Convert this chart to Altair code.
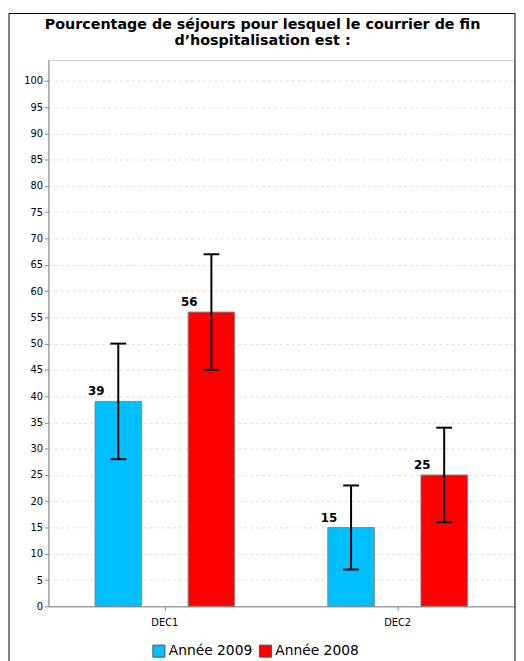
import altair as alt
import pandas as pd

categories = ["DEC1", "DEC2"]
series = ["Année 2009", "Année 2008"]
values_2009 = [39, 15]
values_2008 = [56, 25]
low_2009 = [28, 7]
high_2009 = [50, 23]
low_2008 = [45, 16]
high_2008 = [67, 34]
y_ticks = list(range(0, 101, 5))
colors = ["#00BFFF", "#FF0000"]
title_lines = ["Pourcentage de séjours pour lesquel le courrier de fin", "d\u2019hospitalisation est :"]

rows = []
for i, c in enumerate(categories):
    rows.append({"cat": c, "serie": series[0], "value": values_2009[i], "low": low_2009[i], "high": high_2009[i]})
    rows.append({"cat": c, "serie": series[1], "value": values_2008[i], "low": low_2008[i], "high": high_2008[i]})
df = pd.DataFrame(rows)

W, H = 472, 554
FONT = "DejaVu Sans"

x = alt.X("cat:N", sort=categories, title=None,
          scale=alt.Scale(paddingInner=0, paddingOuter=0),
          axis=alt.Axis(labelAngle=0, labelFont=FONT, labelFontSize=10, labelColor="#000",
                        domainColor="#888", tickColor="#888", tickSize=4, labelPadding=7))
xo = alt.XOffset("serie:N", sort=series, scale=alt.Scale(paddingInner=0.5, paddingOuter=0.5))
yscale = alt.Scale(domain=[0, 104], nice=False)
yaxis = alt.Axis(values=y_ticks, labelOverlap=False, labelFlush=False, title=None,
                 labelFont=FONT, labelFontSize=10, labelColor="#000",
                 domainColor="#888", tickColor="#888", tickSize=4,
                 grid=True, gridColor="#dddddd", gridDash=[3, 3])

base = alt.Chart(df)

bars = base.mark_bar(stroke="#888888", strokeWidth=1).encode(
    x=x, xOffset=xo,
    y=alt.Y("value:Q", scale=yscale, title=None, axis=yaxis),
    color=alt.Color("serie:N", sort=series, scale=alt.Scale(domain=series, range=colors),
                    legend=alt.Legend(title=None, orient="none", legendX=105, legendY=592,
                                      direction="horizontal", symbolType="square", symbolSize=150,
                                      symbolStrokeColor="#555", symbolStrokeWidth=1,
                                      labelFont=FONT, labelFontSize=14, labelColor="#000",
                                      columnPadding=4, symbolOpacity=1, labelOffset=3)),
)

rules = base.mark_rule(color="black", strokeWidth=2).encode(
    x=x, xOffset=xo, y=alt.Y("low:Q", scale=yscale, title=None, axis=yaxis), y2="high:Q")

caps_hi = base.mark_tick(color="black", thickness=2, size=16, opacity=1).encode(
    x=x, xOffset=xo, y=alt.Y("high:Q", scale=yscale, title=None, axis=yaxis))
caps_lo = base.mark_tick(color="black", thickness=2, size=16, opacity=1).encode(
    x=x, xOffset=xo, y=alt.Y("low:Q", scale=yscale, title=None, axis=yaxis))

labels = base.mark_text(font=FONT, fontSize=12, fontWeight="bold", align="right",
                        baseline="bottom", dx=-14, dy=-3, color="black").encode(
    x=x, xOffset=xo, y=alt.Y("value:Q", scale=yscale, title=None, axis=yaxis), text="value:Q")

one = pd.DataFrame({"a": [0]})
BOTTOM = H + 60
b_top = alt.Chart(one).mark_rule(color="black", strokeWidth=1).encode(
    x=alt.value(-40), x2=alt.value(473), y=alt.value(-47))
b_left = alt.Chart(one).mark_rule(color="black", strokeWidth=1).encode(
    x=alt.value(-40), y=alt.value(-47), y2=alt.value(BOTTOM))
b_right = alt.Chart(one).mark_rule(color="black", strokeWidth=1).encode(
    x=alt.value(473), y=alt.value(-47), y2=alt.value(BOTTOM))

t1 = alt.Chart(pd.DataFrame({"t": [title_lines[0]]})).mark_text(
    font=FONT, fontSize=14.5, fontWeight="bold", align="center", baseline="alphabetic").encode(
    x=alt.value(217), y=alt.value(-31), text="t:N")
t2 = alt.Chart(pd.DataFrame({"t": [title_lines[1]]})).mark_text(
    font=FONT, fontSize=14.5, fontWeight="bold", align="center", baseline="alphabetic").encode(
    x=alt.value(217), y=alt.value(-15), text="t:N")

chart = alt.layer(b_top, b_left, b_right, bars, rules, caps_hi, caps_lo, labels, t1, t2).properties(
    width=W, height=H, padding=0
).configure_view(stroke="#cccccc")

chart.save("out.html", embed_options={"renderer": "svg", "actions": False})
